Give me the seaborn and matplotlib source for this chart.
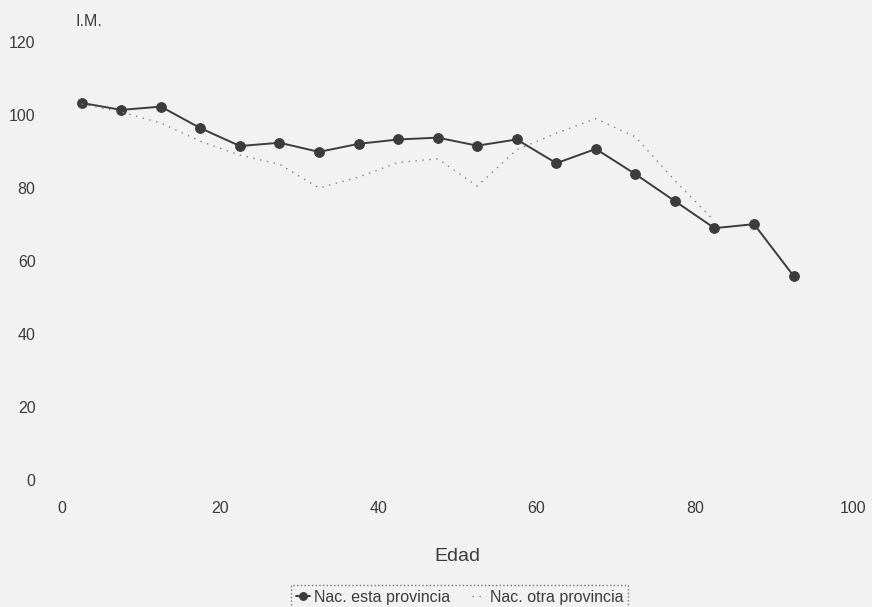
import pandas as pd
import seaborn as sns
import matplotlib.pyplot as plt

# Age groups (midpoints of 5-year bands)
edad_esta = [2.5, 7.5, 12.5, 17.5, 22.5, 27.5, 32.5, 37.5, 42.5, 47.5,
             52.5, 57.5, 62.5, 67.5, 72.5, 77.5, 82.5, 87.5, 92.5]
im_esta = [103.3, 101.4, 102.3, 96.4, 91.5, 92.4, 89.9, 92.1, 93.3, 93.8,
           91.6, 93.3, 86.8, 90.7, 83.8, 76.4, 69.0, 70.1, 55.9]

edad_otra = [2.5, 7.5, 12.5, 17.5, 22.5, 27.5, 32.5, 37.5, 42.5, 47.5,
             52.5, 57.5, 62.5, 67.5, 72.5, 77.5, 82.5]
im_otra = [103.0, 100.8, 97.8, 92.8, 89.0, 86.5, 80.0, 83.0, 87.0, 88.0,
           80.5, 90.5, 95.0, 99.0, 94.0, 82.0, 71.0]

x_ticks = [0, 20, 40, 60, 80, 100]
y_ticks = [0, 20, 40, 60, 80, 100, 120]

BG = "#f2f2f2"
INK = "#3c3c3c"


def main():
    sns.set_style("white")
    plt.rcParams["font.family"] = ["Liberation Sans", "DejaVu Sans"]

    df_esta = pd.DataFrame({"Edad": edad_esta, "IM": im_esta})
    df_otra = pd.DataFrame({"Edad": edad_otra, "IM": im_otra})

    fig = plt.figure(figsize=(8.72, 6.07), dpi=100, facecolor=BG)
    ax = fig.add_axes([0.0711, 0.2092, 0.907, 0.7216])
    ax.set_facecolor(BG)

    sns.lineplot(data=df_esta, x="Edad", y="IM", ax=ax, color=INK,
                 linewidth=1.4, marker="o", markersize=7,
                 markeredgecolor=INK, label="Nac. esta provincia")
    sns.lineplot(data=df_otra, x="Edad", y="IM", ax=ax, color="#808080",
                 linewidth=1.0, linestyle=(0, (1, 4)),
                 label="Nac. otra provincia")

    ax.set_xlim(0, 100)
    ax.set_ylim(0, 120)
    ax.set_xticks(x_ticks)
    ax.set_yticks(y_ticks)
    ax.tick_params(length=0, labelsize=11.5, labelcolor=INK)
    ax.tick_params(axis="y", pad=19)
    ax.tick_params(axis="x", pad=15)
    for s in ax.spines.values():
        s.set_visible(False)

    ax.set_ylabel("")
    ax.set_xlabel("Edad", fontsize=14, color=INK, labelpad=23)
    fig.text(75 / 872, 1 - 22 / 607, "I.M.", fontsize=11.5, color=INK,
             ha="left", va="center")

    leg = ax.legend(loc="upper center", bbox_to_anchor=(0.527, 1 - 577 / 607),
                    bbox_transform=fig.transFigure, ncol=2, fontsize=11.5,
                    frameon=True, fancybox=False, handlelength=0.9,
                    handletextpad=0.2, columnspacing=1.4, borderpad=0.3,
                    markerscale=0.8)
    frame = leg.get_frame()
    frame.set_linestyle(":")
    frame.set_edgecolor("#555555")
    frame.set_facecolor(BG)
    for t in leg.get_texts():
        t.set_color(INK)

    fig.savefig("out.png", dpi=100, facecolor=BG)


if __name__ == "__main__":
    main()
